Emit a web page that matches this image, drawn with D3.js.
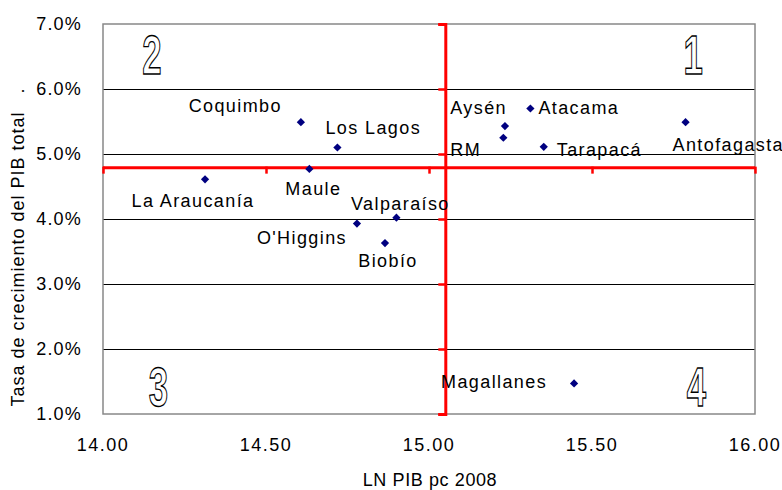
<!DOCTYPE html>
<html>
<head>
<meta charset="utf-8">
<script src="https://cdn.jsdelivr.net/npm/d3@7"></script>
<style>
  body { margin: 0; background: #fff; }
  text { font-family: "Liberation Sans", Arial, sans-serif; fill: #000; }
</style>
</head>
<body>
<div id="chart"></div>
<script>
// Regions and their values
const regions = ['La Araucanía', 'Coquimbo', 'Los Lagos', 'Maule', "O'Higgins", 'Valparaíso', 'Biobío',
    'Aysén', 'RM', 'Atacama', 'Tarapacá', 'Antofagasta', 'Magallanes'];
const lnPibPc = [14.313, 14.607, 14.719, 14.633, 14.779, 14.900, 14.865,
    15.233, 15.228, 15.311, 15.352, 15.787, 15.445];
const growth = [0.0461, 0.0549, 0.0510, 0.0477, 0.0393, 0.0402, 0.0363,
    0.0543, 0.0525, 0.0570, 0.0511, 0.0549, 0.0147];

// reference lines (averages)
const meanLnPib = 15.05;
const meanGrowth = 0.0479;

const xTicks = [14, 14.5, 15, 15.5, 16];
const yTicks = [0.01, 0.02, 0.03, 0.04, 0.05, 0.06, 0.07];
const quadrants = ['1', '2', '3', '4'];

// label placement relative to the point: [anchor, dx, dy]
const labelPos = [
    ['middle', -12, 28], ['end', -19, -10], ['start', -12, -14], ['middle', 4, 26],
    ['end', -10, 20], ['middle', 4, -8], ['middle', 3, 24],
    ['end', 2, -12], ['start', -53, 18], ['start', 8, 5], ['start', 13, 9],
    ['start', -13, 29], ['end', -27, 5]
];
// quadrant digit centres: [x value, y value]
const quadPos = [[15.81, 0.0654], [14.15, 0.0654], [14.17, 0.0143], [15.82, 0.0143]];

const width = 782, height = 490;
const margin = { top: 24, right: 27, bottom: 76, left: 103 };

const svg = d3.select('#chart').append('svg')
    .attr('width', width)
    .attr('height', height);

const x = d3.scaleLinear().domain([14, 16]).range([margin.left, width - margin.right]);
const y = d3.scaleLinear().domain([0.01, 0.07]).range([height - margin.bottom, margin.top]);

// gridlines (half-pixel offset keeps them crisp)
svg.append('g')
    .selectAll('line')
    .data(yTicks.slice(1, -1))
    .enter()
    .append('line')
    .attr('x1', x(14)).attr('x2', x(16))
    .attr('y1', d => Math.round(y(d)) + 0.5).attr('y2', d => Math.round(y(d)) + 0.5)
    .style('stroke', '#000')
    .style('stroke-width', '1px');

// plot border
svg.append('rect')
    .attr('x', x(14)).attr('y', y(0.07))
    .attr('width', x(16) - x(14))
    .attr('height', y(0.01) - y(0.07))
    .style('fill', 'none')
    .style('stroke', '#888')
    .style('stroke-width', '1.5px');

// y tick labels
svg.append('g')
    .selectAll('text')
    .data(yTicks)
    .enter()
    .append('text')
    .attr('x', 82)
    .attr('y', d => y(d))
    .attr('dy', '0.35em')
    .attr('text-anchor', 'end')
    .style('font-size', '18px')
    .style('letter-spacing', '1.2px')
    .text(d => (d * 100).toFixed(1) + '%');

// x tick labels
svg.append('g')
    .selectAll('text')
    .data(xTicks)
    .enter()
    .append('text')
    .attr('x', d => x(d))
    .attr('y', 445)
    .attr('dy', '0.35em')
    .attr('text-anchor', 'middle')
    .style('font-size', '18px')
    .style('letter-spacing', '1.5px')
    .text(d => d.toFixed(2));

// axis titles
svg.append('text')
    .attr('x', 430).attr('y', 480)
    .attr('dy', '0.35em')
    .attr('text-anchor', 'middle')
    .style('font-size', '18px')
    .style('letter-spacing', '0.6px')
    .text('LN PIB pc 2008');

svg.append('text')
    .attr('transform', 'translate(18,247) rotate(-90)')
    .attr('dy', '0.35em')
    .attr('text-anchor', 'middle')
    .style('font-size', '18px')
    .style('letter-spacing', '1px')
    .style('white-space', 'pre')
    .text('Tasa de crecimiento del PIB total   .');

// red reference lines with their ticks
const hAxis = svg.append('g')
    .attr('transform', `translate(0,${y(meanGrowth)})`)
    .call(d3.axisBottom(x).tickValues(xTicks).tickSize(6).tickFormat(''));
const vAxis = svg.append('g')
    .attr('transform', `translate(${x(meanLnPib)},0)`)
    .call(d3.axisLeft(y).tickValues(yTicks).tickSize(7).tickFormat(''));
[hAxis, vAxis].forEach(a => {
    a.selectAll('path').attr('stroke', '#ff0000').attr('stroke-width', 3);
    a.selectAll('line').attr('stroke', '#ff0000').attr('stroke-width', 2.5);
});
hAxis.select('path').attr('d', `M${x(14)},0H${x(16)}`);
hAxis.selectAll('.tick line').attr('y1', -1);

// quadrant numbers
svg.append('g')
    .selectAll('text')
    .data(quadrants)
    .enter()
    .append('text')
    .attr('transform', (d, i) => `translate(${x(quadPos[i][0])},${y(quadPos[i][1])}) scale(0.62,1)`)
    .attr('dy', '0.36em')
    .attr('text-anchor', 'middle')
    .style('font-family', '"Liberation Sans Narrow", "Liberation Sans", sans-serif')
    .style('font-weight', 'bold')
    .style('font-size', '56px')
    .style('fill', '#fff')
    .style('stroke', '#000')
    .style('stroke-width', '1.4px')
    .text(d => d);

// points
const points = regions.map((r, i) => ({ name: r, x: lnPibPc[i], y: growth[i], pos: labelPos[i] }));

svg.append('g')
    .selectAll('path')
    .data(points)
    .enter()
    .append('path')
    .attr('d', d3.symbol().type(d3.symbolSquare).size(34))
    .attr('transform', d => `translate(${x(d.x)},${y(d.y)}) rotate(45)`)
    .style('fill', '#000080');

svg.append('g')
    .selectAll('text')
    .data(points)
    .enter()
    .append('text')
    .attr('x', d => x(d.x) + d.pos[1])
    .attr('y', d => y(d.y) + d.pos[2])
    .attr('text-anchor', d => d.pos[0])
    .style('font-size', '18px')
    .style('letter-spacing', '1.4px')
    .text(d => d.name);
</script>
</body>
</html>
